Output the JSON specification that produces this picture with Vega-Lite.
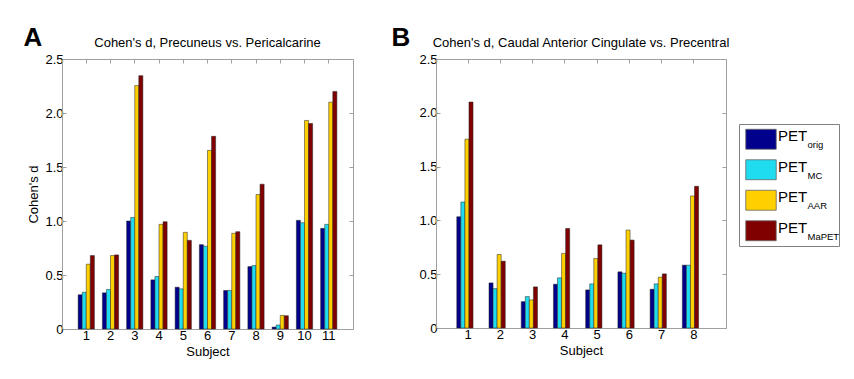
{
  "$schema": "https://vega.github.io/schema/vega-lite/v6.json",
  "padding": {"left": 23, "top": 24, "right": 5, "bottom": 5},
  "config": {
    "font": "Liberation Sans",
    "view": {"stroke": "#a0a0a0", "strokeWidth": 1},
    "axis": {"domainColor": "#a0a0a0", "tickColor": "#a0a0a0", "labelColor": "#000000", "titleColor": "#000000", "labelFontSize": 13, "titleFontSize": 13, "titleFontWeight": "normal", "grid": false, "labelFont": "Liberation Sans", "titleFont": "Liberation Sans"},
    "title": {"font": "Liberation Sans", "color": "#000000"},
    "concat": {"spacing": 7}
  },
  "datasets": {
    "a": [
      {"s": 1, "m": "orig", "d": 0.317}, {"s": 1, "m": "MC", "d": 0.34}, {"s": 1, "m": "AAR", "d": 0.6}, {"s": 1, "m": "MaPET", "d": 0.68},
      {"s": 2, "m": "orig", "d": 0.335}, {"s": 2, "m": "MC", "d": 0.366}, {"s": 2, "m": "AAR", "d": 0.68}, {"s": 2, "m": "MaPET", "d": 0.686},
      {"s": 3, "m": "orig", "d": 1.0}, {"s": 3, "m": "MC", "d": 1.033}, {"s": 3, "m": "AAR", "d": 2.254}, {"s": 3, "m": "MaPET", "d": 2.346},
      {"s": 4, "m": "orig", "d": 0.455}, {"s": 4, "m": "MC", "d": 0.486}, {"s": 4, "m": "AAR", "d": 0.969}, {"s": 4, "m": "MaPET", "d": 0.993},
      {"s": 5, "m": "orig", "d": 0.387}, {"s": 5, "m": "MC", "d": 0.372}, {"s": 5, "m": "AAR", "d": 0.895}, {"s": 5, "m": "MaPET", "d": 0.821},
      {"s": 6, "m": "orig", "d": 0.781}, {"s": 6, "m": "MC", "d": 0.766}, {"s": 6, "m": "AAR", "d": 1.654}, {"s": 6, "m": "MaPET", "d": 1.784},
      {"s": 7, "m": "orig", "d": 0.357}, {"s": 7, "m": "MC", "d": 0.357}, {"s": 7, "m": "AAR", "d": 0.886}, {"s": 7, "m": "MaPET", "d": 0.901},
      {"s": 8, "m": "orig", "d": 0.578}, {"s": 8, "m": "MC", "d": 0.587}, {"s": 8, "m": "AAR", "d": 1.245}, {"s": 8, "m": "MaPET", "d": 1.341},
      {"s": 9, "m": "orig", "d": 0.018}, {"s": 9, "m": "MC", "d": 0.037}, {"s": 9, "m": "AAR", "d": 0.126}, {"s": 9, "m": "MaPET", "d": 0.123},
      {"s": 10, "m": "orig", "d": 1.006}, {"s": 10, "m": "MC", "d": 0.984}, {"s": 10, "m": "AAR", "d": 1.931}, {"s": 10, "m": "MaPET", "d": 1.903},
      {"s": 11, "m": "orig", "d": 0.932}, {"s": 11, "m": "MC", "d": 0.969}, {"s": 11, "m": "AAR", "d": 2.1}, {"s": 11, "m": "MaPET", "d": 2.2}
    ],
    "b": [
      {"s": 1, "m": "orig", "d": 1.034}, {"s": 1, "m": "MC", "d": 1.171}, {"s": 1, "m": "AAR", "d": 1.755}, {"s": 1, "m": "MaPET", "d": 2.1},
      {"s": 2, "m": "orig", "d": 0.419}, {"s": 2, "m": "MC", "d": 0.366}, {"s": 2, "m": "AAR", "d": 0.683}, {"s": 2, "m": "MaPET", "d": 0.621},
      {"s": 3, "m": "orig", "d": 0.245}, {"s": 3, "m": "MC", "d": 0.292}, {"s": 3, "m": "AAR", "d": 0.261}, {"s": 3, "m": "MaPET", "d": 0.382},
      {"s": 4, "m": "orig", "d": 0.407}, {"s": 4, "m": "MC", "d": 0.466}, {"s": 4, "m": "AAR", "d": 0.693}, {"s": 4, "m": "MaPET", "d": 0.925},
      {"s": 5, "m": "orig", "d": 0.354}, {"s": 5, "m": "MC", "d": 0.41}, {"s": 5, "m": "AAR", "d": 0.646}, {"s": 5, "m": "MaPET", "d": 0.773},
      {"s": 6, "m": "orig", "d": 0.522}, {"s": 6, "m": "MC", "d": 0.509}, {"s": 6, "m": "AAR", "d": 0.91}, {"s": 6, "m": "MaPET", "d": 0.817},
      {"s": 7, "m": "orig", "d": 0.36}, {"s": 7, "m": "MC", "d": 0.41}, {"s": 7, "m": "AAR", "d": 0.472}, {"s": 7, "m": "MaPET", "d": 0.503},
      {"s": 8, "m": "orig", "d": 0.584}, {"s": 8, "m": "MC", "d": 0.584}, {"s": 8, "m": "AAR", "d": 1.227}, {"s": 8, "m": "MaPET", "d": 1.317}
    ],
    "leg": [
      {"m": "orig", "name": "PET", "sub": "orig"},
      {"m": "MC", "name": "PET", "sub": "MC"},
      {"m": "AAR", "name": "PET", "sub": "AAR"},
      {"m": "MaPET", "name": "PET", "sub": "MaPET"}
    ]
  },
  "hconcat": [
    {
      "title": {"text": "A", "anchor": "start", "fontSize": 26, "fontWeight": "bold", "dx": -4, "dy": 14, "offset": 0},
      "vconcat": [
        {
          "width": 291,
          "height": 270,
          "title": {"text": "Cohen's d, Precuneus vs. Pericalcarine", "anchor": "middle", "fontSize": 13, "fontWeight": "normal", "offset": 3},
          "data": {"name": "a"},
          "layer": [
            {
              "mark": {"type": "bar", "stroke": "#222222", "strokeWidth": 0.5},
              "encoding": {
                "x": {"field": "s", "type": "ordinal", "title": "Subject", "scale": {"paddingInner": 0.33, "paddingOuter": 0.665}, "axis": {"labelAngle": 0, "tickSize": -4, "labelPadding": 4, "titlePadding": 3}},
                "xOffset": {"field": "m", "type": "nominal", "sort": ["orig", "MC", "AAR", "MaPET"], "scale": {"paddingInner": 0, "paddingOuter": 0}},
                "y": {"field": "d", "type": "quantitative", "title": "Cohen's d", "scale": {"domain": [0, 2.5], "nice": false}, "axis": {"values": [0, 0.5, 1, 1.5, 2, 2.5], "labelExpr": "datum.value == 0 ? '0' : format(datum.value, '.1f')", "tickSize": -4, "labelPadding": 3, "titlePadding": 4}},
                "color": {"field": "m", "type": "nominal", "scale": {"domain": ["orig", "MC", "AAR", "MaPET"], "range": ["#00008c", "#20dcf0", "#ffd000", "#800000"]}, "legend": null}
              }
            },
            {
              "mark": {"type": "bar", "opacity": 0},
              "encoding": {
                "x": {"field": "s", "type": "ordinal", "axis": {"orient": "top", "labels": false, "title": null, "tickSize": -4, "domain": false}},
                "xOffset": {"field": "m", "type": "nominal", "sort": ["orig", "MC", "AAR", "MaPET"]},
                "y": {"field": "d", "type": "quantitative", "axis": {"orient": "right", "labels": false, "title": null, "values": [0, 0.5, 1, 1.5, 2, 2.5], "tickSize": -4, "domain": false}}
              }
            }
          ],
          "resolve": {"axis": {"x": "independent", "y": "independent"}}
        }
      ]
    },
    {
      "title": {"text": "B", "anchor": "start", "fontSize": 26, "fontWeight": "bold", "dx": 30, "dy": 14, "offset": 0},
      "vconcat": [
        {
          "width": 290,
          "height": 269,
          "title": {"text": "Cohen's d, Caudal Anterior Cingulate vs. Precentral", "anchor": "middle", "fontSize": 13, "fontWeight": "normal", "offset": 3},
          "data": {"name": "b"},
          "layer": [
            {
              "mark": {"type": "bar", "stroke": "#222222", "strokeWidth": 0.5},
              "encoding": {
                "x": {"field": "s", "type": "ordinal", "title": "Subject", "scale": {"paddingInner": 0.29, "paddingOuter": 0.645}, "axis": {"labelAngle": 0, "tickSize": -4, "labelPadding": 4, "titlePadding": 3}},
                "xOffset": {"field": "m", "type": "nominal", "sort": ["orig", "MC", "AAR", "MaPET"], "scale": {"paddingInner": 0, "paddingOuter": 0}},
                "y": {"field": "d", "type": "quantitative", "title": null, "scale": {"domain": [0, 2.5], "nice": false}, "axis": {"values": [0, 0.5, 1, 1.5, 2, 2.5], "labelExpr": "datum.value == 0 ? '0' : format(datum.value, '.1f')", "tickSize": -4, "labelPadding": 3, "minExtent": 74}},
                "color": {"field": "m", "type": "nominal", "scale": {"domain": ["orig", "MC", "AAR", "MaPET"], "range": ["#00008c", "#20dcf0", "#ffd000", "#800000"]}, "legend": null}
              }
            },
            {
              "mark": {"type": "bar", "opacity": 0},
              "encoding": {
                "x": {"field": "s", "type": "ordinal", "axis": {"orient": "top", "labels": false, "title": null, "tickSize": -4, "domain": false}},
                "xOffset": {"field": "m", "type": "nominal", "sort": ["orig", "MC", "AAR", "MaPET"]},
                "y": {"field": "d", "type": "quantitative", "axis": {"orient": "right", "labels": false, "title": null, "values": [0, 0.5, 1, 1.5, 2, 2.5], "tickSize": -4, "domain": false}}
              }
            }
          ],
          "resolve": {"axis": {"x": "independent", "y": "independent"}}
        }
      ]
    },
    {
      "spacing": 0,
      "vconcat": [
        {
          "width": 100,
          "height": 64,
          "view": {"stroke": null},
          "data": {"values": []},
          "mark": {"type": "point", "opacity": 0},
          "encoding": {}
        },
        {
          "width": 100,
          "height": 122,
          "view": {"stroke": "#808080"},
          "data": {"name": "leg"},
          "encoding": {
            "y": {"field": "m", "type": "nominal", "sort": ["orig", "MC", "AAR", "MaPET"], "scale": {"paddingInner": 0, "paddingOuter": 0.1}, "axis": null}
          },
          "layer": [
            {
              "mark": {"type": "point", "shape": "M-1.45,-0.95H1.45V0.95H-1.45Z", "filled": true, "size": 441, "stroke": "#666666", "strokeWidth": 0.8, "opacity": 1},
              "encoding": {
                "x": {"datum": 0.22, "type": "quantitative", "scale": {"domain": [0, 1]}, "axis": null},
                "color": {"field": "m", "type": "nominal", "scale": {"domain": ["orig", "MC", "AAR", "MaPET"], "range": ["#00008c", "#20dcf0", "#ffd000", "#800000"]}, "legend": null}
              }
            },
            {
              "mark": {"type": "text", "align": "left", "baseline": "middle", "fontSize": 15, "dy": -3, "color": "#000000"},
              "encoding": {
                "x": {"datum": 0.39, "type": "quantitative"},
                "text": {"field": "name"}
              }
            },
            {
              "mark": {"type": "text", "align": "left", "baseline": "middle", "fontSize": 9.5, "dy": 6, "color": "#000000"},
              "encoding": {
                "x": {"datum": 0.685, "type": "quantitative"},
                "text": {"field": "sub"}
              }
            }
          ]
        }
      ]
    }
  ]
}
